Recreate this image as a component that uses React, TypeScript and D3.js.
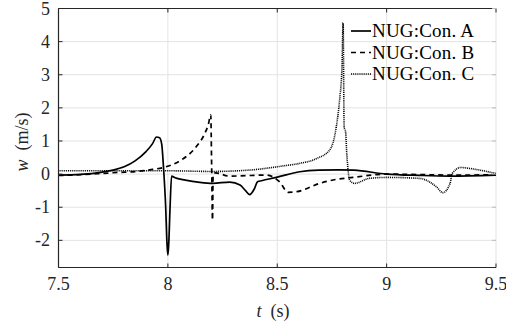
import React from "react";
import * as d3 from "d3";

const xTicks = [7.5, 8, 8.5, 9, 9.5];
const xTickLabels = ["7.5", "8", "8.5", "9", "9.5"];
const yTicks = [-2, -1, 0, 1, 2, 3, 4, 5];
const yTickLabels = ["-2", "-1", "0", "1", "2", "3", "4", "5"];

const seriesNames = ["NUG:Con. A", "NUG:Con. B", "NUG:Con. C"];

const tA = [7.5, 7.6, 7.7, 7.75, 7.8, 7.85, 7.9, 7.93, 7.948, 7.962, 7.972, 7.98, 7.99, 7.996, 8.0, 8.004, 8.01, 8.017, 8.03, 8.08, 8.146, 8.205, 8.283, 8.33, 8.355, 8.374, 8.395, 8.41, 8.428, 8.496, 8.603, 8.69, 8.78, 8.85, 9.0, 9.15, 9.29, 9.5];
const wA = [-0.03, -0.01, 0.06, 0.12, 0.22, 0.4, 0.68, 0.92, 1.12, 1.1, 0.9, 0.2, -1.0, -2.1, -2.45, -2.1, -1.0, -0.06, -0.1, -0.18, -0.25, -0.28, -0.24, -0.33, -0.5, -0.62, -0.45, -0.23, -0.2, -0.1, 0.07, 0.12, 0.13, 0.12, 0.0, -0.04, -0.06, -0.03];

const tB = [7.5, 7.6, 7.7, 7.77, 7.84, 7.93, 7.98, 8.055, 8.13, 8.169, 8.185, 8.196, 8.2, 8.204, 8.207, 8.218, 8.28, 8.45, 8.51, 8.55, 8.59, 8.694, 8.77, 8.846, 9.0, 9.2, 9.29, 9.5];
const wB = [-0.04, -0.02, 0.02, 0.05, 0.07, 0.14, 0.2, 0.4, 0.83, 1.23, 1.5, 1.79, 0.3, -1.39, 0.0, 0.04, -0.06, -0.03, -0.23, -0.55, -0.53, -0.28, -0.16, -0.1, 0.0, -0.02, -0.03, -0.02];

const tC = [7.5, 7.8, 8.0, 8.2, 8.37, 8.53, 8.6, 8.68, 8.74, 8.77, 8.785, 8.796, 8.801, 8.806, 8.812, 8.818, 8.831, 8.853, 8.92, 9.0, 9.15, 9.227, 9.257, 9.29, 9.3, 9.34, 9.38, 9.5];
const wC = [0.1, 0.1, 0.1, 0.08, 0.12, 0.25, 0.32, 0.47, 0.73, 1.43, 2.24, 3.25, 4.57, 1.4, 1.3, 0.6, -0.18, -0.28, -0.13, -0.1, -0.13, -0.38, -0.56, -0.28, 0.02, 0.2, 0.17, 0.02];

const W = 506;
const H = 324;
const L = 58.5, R = 496, T = 8.5, B = 267.5;
const FONT = "Liberation Serif";

export default function App() {
  const x = d3.scaleLinear().domain([7.5, 9.5]).range([L, R]);
  const y = d3.scaleLinear().domain([-2.82, 5]).range([B, T]);
  const line = d3
    .line<[number, number]>()
    .x((d) => x(d[0]))
    .y((d) => y(d[1]))
    .curve(d3.curveMonotoneX);
  const series = [
    { t: tA, w: wA, dash: "none", sw: 1.7 },
    { t: tB, w: wB, dash: "5,4", sw: 1.7 },
    { t: tC, w: wC, dash: "1,0.9", sw: 1.6 },
  ];
  const axisColor = "#262626";
  const fs = { fontFamily: FONT };
  return (
    <svg
      width={W}
      height={H}
      style={{ position: "absolute", left: 0, top: 0, background: "#fff" }}
    >
      <style>{`text, tspan { font-family: "Liberation Serif", "Times New Roman", serif !important; }`}</style>
      <rect x={0} y={0} width={W} height={H} fill="#fff" />
      {xTicks.map((v) => (
        <line key={"gx" + v} x1={x(v)} x2={x(v)} y1={T} y2={B} stroke="#e3e3e3" strokeWidth={1} />
      ))}
      {yTicks.map((v) => (
        <line key={"gy" + v} x1={L} x2={R} y1={y(v)} y2={y(v)} stroke="#e3e3e3" strokeWidth={1} />
      ))}
      {series.map((s, i) => (
        <path
          key={"s" + i}
          d={line(s.t.map((t, j) => [t, s.w[j]] as [number, number])) || ""}
          fill="none"
          stroke="#000"
          strokeWidth={s.sw}
          strokeDasharray={s.dash}
          strokeLinejoin="round"
        />
      ))}
      <line x1={L} x2={L} y1={T} y2={B} stroke={axisColor} strokeWidth={1.2} />
      <line x1={L} x2={R} y1={B} y2={B} stroke={axisColor} strokeWidth={1.2} />
      <line x1={L} x2={R} y1={T} y2={T} stroke={axisColor} strokeWidth={1} />
      {xTicks.map((v) => (
        <g key={"tx" + v}>
          <line x1={x(v)} x2={x(v)} y1={B} y2={B - 4} stroke={axisColor} strokeWidth={1} />
          <line x1={x(v)} x2={x(v)} y1={T} y2={T + 4} stroke={axisColor} strokeWidth={1} />
        </g>
      ))}
      {yTicks.map((v) => (
        <g key={"ty" + v}>
          <line x1={L} x2={L + 4} y1={y(v)} y2={y(v)} stroke={axisColor} strokeWidth={1} />
          <line x1={R} x2={R - 4} y1={y(v)} y2={y(v)} stroke="#bbb" strokeWidth={1} />
        </g>
      ))}
      {xTicks.map((v, i) => (
        <text key={"lx" + v} x={x(v)} y={290} textAnchor="middle" fontSize={18} fill="#262626" style={fs}>
          {xTickLabels[i]}
        </text>
      ))}
      {yTicks.map((v, i) => (
        <text key={"ly" + v} x={50} y={y(v) + 6} textAnchor="end" fontSize={18} fill="#262626" style={fs}>
          {yTickLabels[i]}
        </text>
      ))}
      <text x={273} y={317} textAnchor="middle" fontSize={18} fill="#262626" style={fs}>
        <tspan fontStyle="italic">t</tspan>
        <tspan xmlSpace="preserve">{"  (s)"}</tspan>
      </text>
      <text
        transform={`translate(28, 142) rotate(-90)`}
        textAnchor="middle"
        fontSize={18}
        fill="#262626"
        style={fs}
      >
        <tspan fontStyle="italic">w</tspan>
        <tspan xmlSpace="preserve">{"  (m/s)"}</tspan>
      </text>
      {seriesNames.map((name, i) => {
        const cy = 31 + i * 21.5;
        const s = series[i];
        return (
          <g key={"leg" + i}>
            <line x1={351} x2={371} y1={cy} y2={cy} stroke="#000" strokeWidth={s.sw} strokeDasharray={s.dash} />
            <text x={372} y={cy + 6} fontSize={19} fill="#000" letterSpacing={0.2} style={fs}>
              {name}
            </text>
          </g>
        );
      })}
    </svg>
  );
}
